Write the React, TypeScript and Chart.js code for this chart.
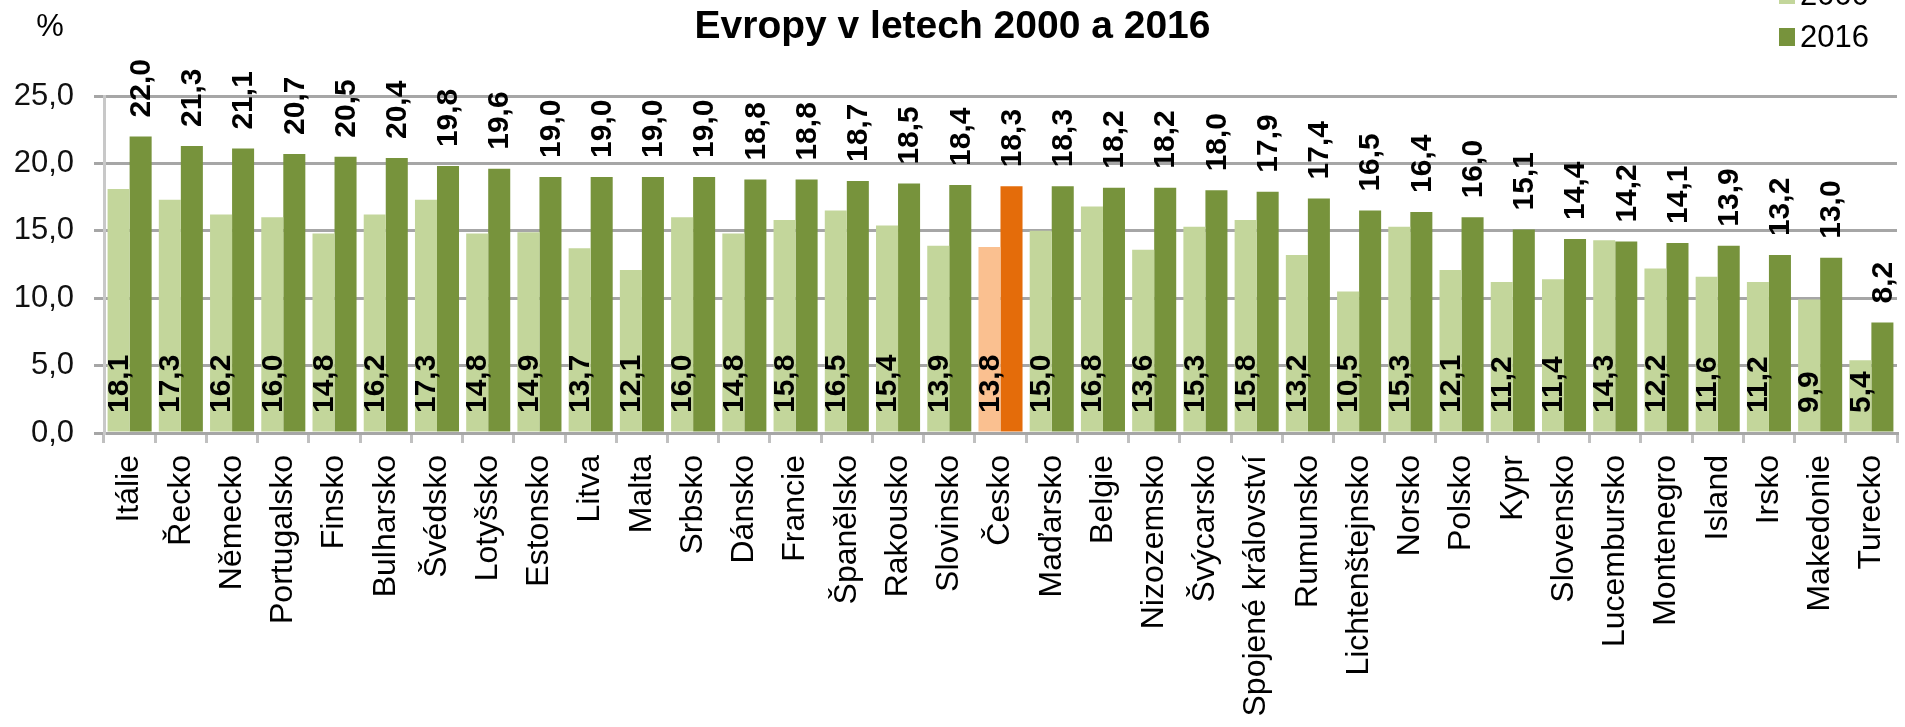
import React, { useEffect, useRef } from "react";
import { Chart, registerables } from "chart.js";

Chart.register(...registerables);

const categories = [
  "Itálie", "Řecko", "Německo", "Portugalsko", "Finsko", "Bulharsko", "Švédsko", "Lotyšsko",
  "Estonsko", "Litva", "Malta", "Srbsko", "Dánsko", "Francie", "Španělsko", "Rakousko",
  "Slovinsko", "Česko", "Maďarsko", "Belgie", "Nizozemsko", "Švýcarsko", "Spojené království",
  "Rumunsko", "Lichtenštejnsko", "Norsko", "Polsko", "Kypr", "Slovensko", "Lucembursko",
  "Montenegro", "Island", "Irsko", "Makedonie", "Turecko",
];

const values2000 = [
  18.1, 17.3, 16.2, 16.0, 14.8, 16.2, 17.3, 14.8, 14.9, 13.7, 12.1, 16.0, 14.8, 15.8, 16.5, 15.4,
  13.9, 13.8, 15.0, 16.8, 13.6, 15.3, 15.8, 13.2, 10.5, 15.3, 12.1, 11.2, 11.4, 14.3, 12.2, 11.6,
  11.2, 9.9, 5.4,
];

const values2016 = [
  22.0, 21.3, 21.1, 20.7, 20.5, 20.4, 19.8, 19.6, 19.0, 19.0, 19.0, 19.0, 18.8, 18.8, 18.7, 18.5,
  18.4, 18.3, 18.3, 18.2, 18.2, 18.0, 17.9, 17.4, 16.5, 16.4, 16.0, 15.1, 14.4, 14.2, 14.1, 13.9,
  13.2, 13.0, 8.2,
];

const seriesNames = ["2000", "2016"];
const yTicks = [0, 5, 10, 15, 20, 25];
const titleText = "Evropy v letech 2000 a 2016";
const unitText = "%";
const highlight = "Česko";

const FONT = '"Liberation Sans", Arial, sans-serif';
const LIGHT = "#c3d69b";
const DARK = "#77933c";
const LIGHT_HI = "#fac090";
const DARK_HI = "#e46c0a";

const fmt = (v: number) => v.toFixed(1).replace(".", ",");

const overlayPlugin = {
  id: "overlay",
  afterDatasetsDraw(chart: any) {
    const ctx = chart.ctx;
    const zeroY = chart.scales.y.getPixelForValue(0);
    ctx.save();
    ctx.fillStyle = "#000";
    ctx.font = `bold 30px ${FONT}`;
    ctx.textBaseline = "middle";
    ctx.textAlign = "left";
    chart.data.datasets.forEach((ds: any, di: number) => {
      const meta = chart.getDatasetMeta(di);
      meta.data.forEach((el: any, i: number) => {
        const v = ds.data[i];
        const y = di === 0 ? zeroY - 20 : el.y - 19;
        ctx.save();
        ctx.translate(el.x, y);
        ctx.rotate(-Math.PI / 2);
        ctx.fillText(fmt(v), 0, 1);
        ctx.restore();
      });
    });
    ctx.restore();
  },
  afterDraw(chart: any) {
    const ctx = chart.ctx;
    ctx.save();
    // title
    ctx.fillStyle = "#000";
    ctx.font = `bold 39px ${FONT}`;
    ctx.textAlign = "center";
    ctx.textBaseline = "alphabetic";
    ctx.fillText(titleText, chart.width / 2, 38);
    // unit
    ctx.font = `31px ${FONT}`;
    ctx.textAlign = "center";
    ctx.textBaseline = "middle";
    ctx.fillText(unitText, 50, 27);
    // legend
    const colors = [LIGHT, DARK];
    const ys = [-5, 37];
    ctx.textAlign = "left";
    seriesNames.forEach((name, i) => {
      ctx.fillStyle = colors[i];
      ctx.fillRect(1779, ys[i] - 9, 16, 18);
      ctx.fillStyle = "#000";
      ctx.fillText(name, 1800, ys[i] + 1);
    });
    ctx.restore();
  },
};

export default function App() {
  const ref = useRef<HTMLCanvasElement | null>(null);
  useEffect(() => {
    if (!ref.current) return;
    const hiIdx = categories.indexOf(highlight);
    const chart = new Chart(ref.current, {
      type: "bar",
      data: {
        labels: categories,
        datasets: [
          {
            label: seriesNames[0],
            data: values2000,
            backgroundColor: categories.map((_, i) => (i === hiIdx ? LIGHT_HI : LIGHT)),
            categoryPercentage: 0.86,
            barPercentage: 1.0,
          },
          {
            label: seriesNames[1],
            data: values2016,
            backgroundColor: categories.map((_, i) => (i === hiIdx ? DARK_HI : DARK)),
            categoryPercentage: 0.86,
            barPercentage: 1.0,
          },
        ],
      },
      options: {
        responsive: false,
        animation: false,
        devicePixelRatio: 1,
        layout: { autoPadding: false, padding: { top: 96, right: 8, left: 0, bottom: 0 } },
        plugins: {
          legend: { display: false },
          title: { display: false },
          tooltip: { enabled: false },
        },
        scales: {
          x: {
            offset: true,
            grid: {
              display: true,
              drawOnChartArea: false,
              drawTicks: true,
              tickLength: 10,
              color: "#c0c0c0",
              lineWidth: 3,
              offset: true,
            },
            border: { display: true, color: "#a6a6a6", width: 3 },
            ticks: {
              autoSkip: false,
              minRotation: 90,
              maxRotation: 90,
              padding: 12,
              color: "#000",
              font: { family: FONT, size: 32 },
            },
            afterFit: (s: any) => {
              s.height = 294;
              s.paddingLeft = 0;
              s.paddingRight = 0;
            },
          },
          y: {
            min: yTicks[0],
            max: yTicks[yTicks.length - 1],
            afterBuildTicks: (s: any) => {
              s.ticks = yTicks.map((v) => ({ value: v }));
            },
            ticks: {
              callback: (v: any) => fmt(Number(v)),
              padding: 20,
              color: "#111",
              font: { family: FONT, size: 31 },
            },
            grid: { color: "#a6a6a6", lineWidth: 3, tickLength: 10 },
            border: { display: true, color: "#c8c8c8", width: 3 },
            afterFit: (s: any) => {
              s.width = 104;
              s.paddingTop = 0;
              s.paddingBottom = 0;
            },
          },
        },
      },
      plugins: [overlayPlugin],
    });
    return () => chart.destroy();
  }, []);
  return (
    <div style={{ position: "absolute", left: 0, top: 0, width: 1905, height: 727, background: "#fff" }}>
      <canvas ref={ref} width={1905} height={727} style={{ display: "block" }} />
    </div>
  );
}
